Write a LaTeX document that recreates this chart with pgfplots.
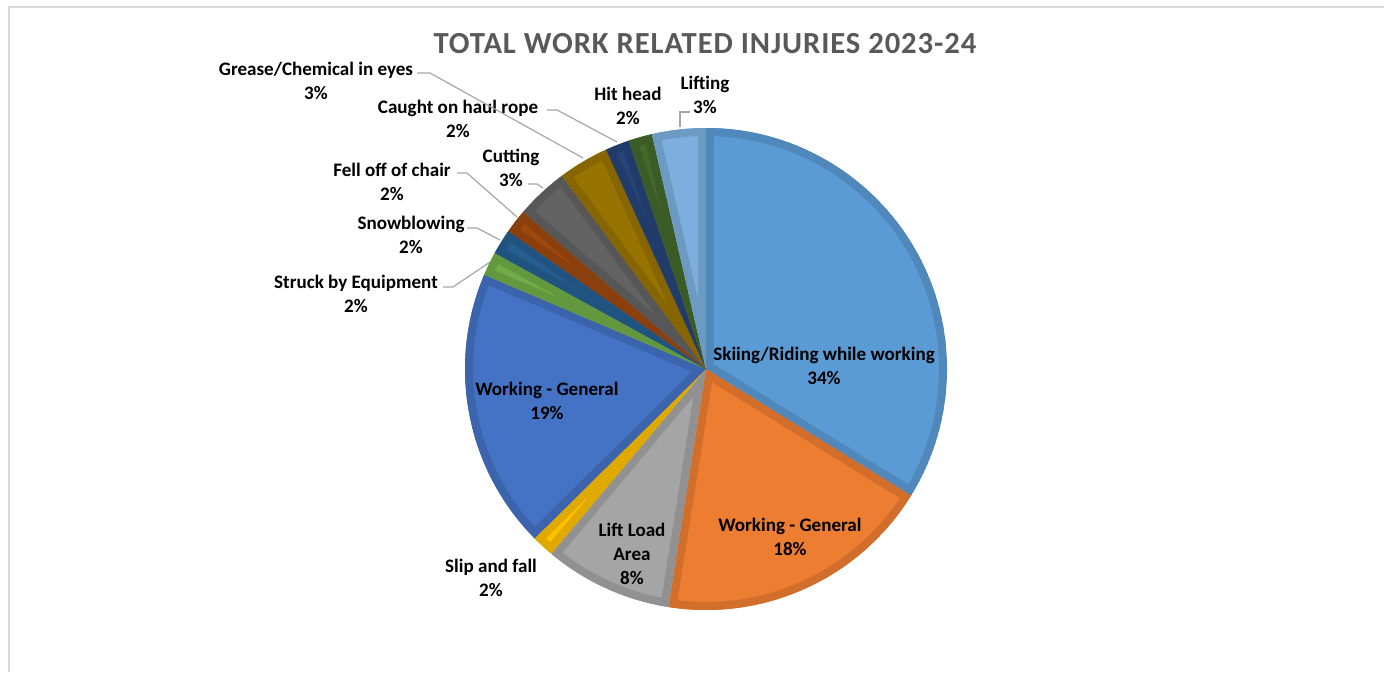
\documentclass[border=0pt]{standalone}
\usepackage{pgfplots}
\pgfplotsset{compat=1.18}
\usepackage{pgfplotstable}
\usepackage{fontspec}
\setmainfont{Carlito}
\newfontfamily\titlefont[LetterSpace=3]{Carlito}

\definecolor{c1}{HTML}{5B9BD5}
\definecolor{c2}{HTML}{ED7D31}
\definecolor{c3}{HTML}{A5A5A5}
\definecolor{c4}{HTML}{FFC000}
\definecolor{c5}{HTML}{4472C4}
\definecolor{c6}{HTML}{70AD47}
\definecolor{c7}{HTML}{255E91}
\definecolor{c8}{HTML}{9E480E}
\definecolor{c9}{HTML}{636363}
\definecolor{c10}{HTML}{997300}
\definecolor{c11}{HTML}{264478}
\definecolor{c12}{HTML}{43682B}
\definecolor{c13}{HTML}{7CAFDD}
\definecolor{titlegray}{HTML}{595959}
\definecolor{leader}{HTML}{A6A6A6}
\definecolor{frame}{HTML}{D9D9D9}

% share of each slice (percent), clockwise from 12 o'clock
\pgfplotstableread{
value colour
33.8 c1
18.7 c2
8.6  c3
1.5  c4
18.8 c5
1.6  c6
1.7  c7
1.6  c8
3.5  c9
3.4  c10
1.6  c11
1.6  c12
3.6  c13
}\piedata

% start/end angles of the slices
\def\cum{0}
\pgfplotsforeachungrouped \i in {0,...,12}{%
  \pgfplotstablegetelem{\i}{value}\of\piedata
  \let\sv\pgfplotsretval
  \pgfmathsetmacro\sA{90-3.6*\cum}%
  \pgfmathsetmacro\cum{\cum+\sv}%
  \pgfmathsetmacro\sB{90-3.6*\cum}%
  \expandafter\xdef\csname sa\i\endcsname{\sA}%
  \expandafter\xdef\csname sb\i\endcsname{\sB}%
  \pgfplotstablegetelem{\i}{colour}\of\piedata
  \expandafter\xdef\csname sc\i\endcsname{\pgfplotsretval}%
}

\newcommand\slicepath[1]{(axis cs:706,303) -- ++(\csname sa#1\endcsname:180.75pt)
  arc[start angle=\csname sa#1\endcsname, end angle=\csname sb#1\endcsname, radius=180.75pt] -- cycle}

\begin{document}
\begin{tikzpicture}[
    lbl/.style={font=\bfseries\fontsize{14.3}{18}\selectfont, align=center, text=black, inner sep=0pt},
    ldr/.style={leader, line width=0.9pt},
]
\path[use as bounding box] (0,0) rectangle (1038pt,504pt);
\begin{axis}[
    at={(0,0)}, anchor=south west,
    scale only axis, width=1038pt, height=504pt,
    xmin=0, xmax=1384, ymin=0, ymax=672,
    hide axis, clip=false,
]
\draw[frame, line width=1.5pt] (axis cs:9,0) -- (axis cs:9,665) -- (axis cs:1384,665);

\pgfplotsinvokeforeach{0,...,12}{
  \begin{scope}
    \clip \slicepath{#1};
    \fill[\csname sc#1\endcsname] \slicepath{#1};
    \draw[\csname sc#1\endcsname!88!black, line width=12pt] \slicepath{#1};
  \end{scope}
}

\node[font=\titlefont\bfseries\fontsize{23}{27}\selectfont, text=titlegray] at (axis cs:705,628) {TOTAL WORK RELATED INJURIES 2023-24};

\node[lbl] at (axis cs:824,306) {Skiing/Riding while working\\34\%};
\node[lbl] at (axis cs:790,135) {Working - General\\18\%};
\node[lbl] at (axis cs:632,118) {Lift Load\\Area\\8\%};
\node[lbl] at (axis cs:491,94) {Slip and fall\\2\%};
\node[lbl] at (axis cs:547,271) {Working - General\\19\%};
\node[lbl] at (axis cs:356,378) {Struck by Equipment\\2\%};
\node[lbl] at (axis cs:411,437) {Snowblowing\\2\%};
\node[lbl] at (axis cs:392,490) {Fell off of chair\\2\%};
\node[lbl] at (axis cs:511,504) {Cutting\\3\%};
\node[lbl] at (axis cs:458,553) {Caught on haul rope\\2\%};
\node[lbl] at (axis cs:316,591) {Grease/Chemical in eyes\\3\%};
\node[lbl] at (axis cs:628,566) {Hit head\\2\%};
\node[lbl] at (axis cs:705,577) {Lifting\\3\%};

\draw[ldr] (axis cs:417,599) -- (axis cs:430,599) -- (axis cs:583,514);
\draw[ldr] (axis cs:547,562) -- (axis cs:557,562) -- (axis cs:617,530);
\draw[ldr] (axis cs:690,560) -- (axis cs:680,560) -- (axis cs:680,545);
\draw[ldr] (axis cs:457,499) -- (axis cs:467,499) -- (axis cs:517,455);
\draw[ldr] (axis cs:467,444) -- (axis cs:477,444) -- (axis cs:500,432);
\draw[ldr] (axis cs:443,385) -- (axis cs:453,385) -- (axis cs:490,410);
\draw[ldr] (axis cs:528,488) -- (axis cs:537,488) -- (axis cs:543,484);
\end{axis}
\end{tikzpicture}
\end{document}
